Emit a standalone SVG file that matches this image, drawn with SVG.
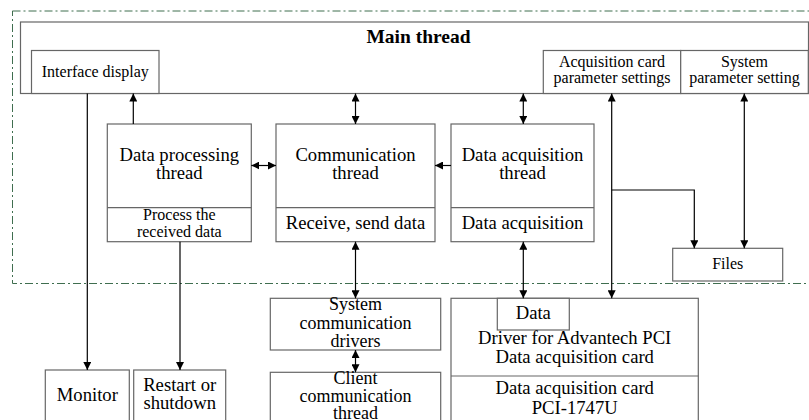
<svg xmlns="http://www.w3.org/2000/svg" width="809" height="420" viewBox="0 0 809 420">
  <defs>
    <marker id="arrow" viewBox="0 0 10 10" refX="10" refY="5" markerWidth="9" markerHeight="8" markerUnits="userSpaceOnUse" orient="auto-start-reverse">
      <path d="M0,0 L10,5 L0,10 z" fill="#000"/>
    </marker>
    <marker id="arrow-s" viewBox="0 0 10 10" refX="10" refY="5" markerWidth="8" markerHeight="8" markerUnits="userSpaceOnUse" orient="auto-start-reverse">
      <path d="M0,0 L10,5 L0,10 z" fill="#000"/>
    </marker>
  </defs>
  <style>
    .box { fill: #fff; stroke: #666; stroke-width: 1.2; }
    .div { stroke: #666; stroke-width: 1.2; fill: none; }
    .zone { fill: none; stroke: #3f6e4f; stroke-width: 1; stroke-dasharray: 8 3 2 3; }
    .link { fill: none; stroke: #000; stroke-width: 1.2; }
    .one { marker-end: url(#arrow); }
    .two { marker-start: url(#arrow); marker-end: url(#arrow); }
    .twos { marker-start: url(#arrow-s); marker-end: url(#arrow-s); }
    text { font-family: "Liberation Serif", "Times New Roman", serif; fill: #000; text-anchor: middle; }
    .t16 { font-size: 16px; }
    .t18 { font-size: 18.67px; }
    .tight { font-size: 18px; }
    .title { font-size: 19.5px; font-weight: bold; }
  </style>

  <rect width="809" height="420" fill="#fff"/>

  <!-- process boundary -->
  <rect id="process-boundary" class="zone" x="12.5" y="11" width="810" height="272.5"/>

  <!-- main thread -->
  <g id="main-thread">
    <rect class="box" x="20.5" y="22" width="788" height="71.5"/>
    <text class="title" x="418.5" y="43">Main thread</text>
  </g>

  <g id="interface-display">
    <rect class="box" x="31.5" y="50.5" width="127.5" height="43"/>
    <text class="t16" x="95.3" y="77">Interface display</text>
  </g>

  <g id="acq-card-params">
    <rect class="box" x="543.3" y="50.5" width="137.4" height="43"/>
    <text class="t16" x="612" y="67">Acquisition card</text>
    <text class="t16" x="612" y="83">parameter settings</text>
  </g>

  <g id="system-params">
    <rect class="box" x="680.7" y="50.5" width="127.6" height="43"/>
    <text class="t16" x="744.5" y="67">System</text>
    <text class="t16" x="744.5" y="83">parameter setting</text>
  </g>

  <!-- worker threads -->
  <g id="data-processing">
    <rect class="box" x="107.3" y="124" width="144" height="117.7"/>
    <line class="div" x1="107.3" y1="207.7" x2="251.3" y2="207.7"/>
    <text class="t18" x="179.3" y="160.5">Data processing</text>
    <text class="t18" x="179.3" y="179.2">thread</text>
    <text class="t16" x="179.3" y="220">Process the</text>
    <text class="t16" x="179.3" y="236.5">received data</text>
  </g>

  <g id="communication">
    <rect class="box" x="276" y="124" width="159" height="117.7"/>
    <line class="div" x1="276" y1="207.7" x2="435" y2="207.7"/>
    <text class="t18" x="355.5" y="160.5">Communication</text>
    <text class="t18" x="355.5" y="179.2">thread</text>
    <text class="t18" x="355.5" y="228.5">Receive, send data</text>
  </g>

  <g id="data-acquisition">
    <rect class="box" x="451" y="124" width="143" height="117.7"/>
    <line class="div" x1="451" y1="207.7" x2="594" y2="207.7"/>
    <text class="t18" x="522.5" y="160.5">Data acquisition</text>
    <text class="t18" x="522.5" y="179.2">thread</text>
    <text class="t18" x="522.5" y="228.5">Data acquisition</text>
  </g>

  <g id="files">
    <rect class="box" x="672.7" y="248.3" width="110" height="32.7"/>
    <text class="t16" x="727.7" y="269">Files</text>
  </g>

  <!-- outside the process -->
  <g id="monitor">
    <rect class="box" x="45.3" y="370" width="84" height="60"/>
    <text class="t18" x="87.3" y="400.5">Monitor</text>
  </g>

  <g id="restart">
    <rect class="box" x="133.7" y="370" width="92" height="60"/>
    <text class="t18" x="179.7" y="390.5">Restart or</text>
    <text class="t18" x="179.7" y="409.2">shutdown</text>
  </g>

  <g id="comm-drivers">
    <rect class="box" x="270.3" y="298.3" width="170.4" height="51.7"/>
    <text class="tight" x="355.5" y="310">System</text>
    <text class="tight" x="355.5" y="328.5">communication</text>
    <text class="tight" x="355.5" y="347">drivers</text>
  </g>

  <g id="client-comm">
    <rect class="box" x="270.3" y="372.3" width="170.4" height="60"/>
    <text class="tight" x="355.5" y="383.5">Client</text>
    <text class="tight" x="355.5" y="401.5">communication</text>
    <text class="tight" x="355.5" y="419">thread</text>
  </g>

  <g id="pci-driver">
    <rect class="box" x="451" y="298.3" width="247.3" height="140"/>
    <line class="div" x1="451" y1="376" x2="698.3" y2="376"/>
    <rect class="box" x="497.3" y="298.3" width="72" height="31.7"/>
    <text class="t18" x="533.3" y="318.5">Data</text>
    <text class="t18" x="574.7" y="344">Driver for Advantech PCI</text>
    <text class="t18" x="574.7" y="362.7">Data acquisition card</text>
    <text class="t18" x="574.7" y="394">Data acquisition card</text>
    <text class="t18" x="574.7" y="414">PCI-1747U</text>
  </g>

  <!-- connectors -->
  <g id="connectors">
    <line class="link one" x1="133.3" y1="124" x2="133.3" y2="93.5"/>
    <line class="link two" x1="355.5" y1="93.5" x2="355.5" y2="124"/>
    <line class="link two" x1="523.3" y1="93.5" x2="523.3" y2="124"/>
    <line class="link twos" x1="251.3" y1="165.5" x2="276" y2="165.5"/>
    <line class="link one" x1="451" y1="165.5" x2="435" y2="165.5"/>
    <line class="link two" x1="611.7" y1="93.5" x2="611.7" y2="298.3"/>
    <polyline class="link one" points="611.7,190 694.3,190 694.3,248.3"/>
    <line class="link two" x1="744.3" y1="93.5" x2="744.3" y2="248.3"/>
    <line class="link one" x1="87.3" y1="93.5" x2="87.3" y2="370"/>
    <line class="link one" x1="180" y1="241.7" x2="180" y2="370"/>
    <line class="link two" x1="355.5" y1="241.7" x2="355.5" y2="298.3"/>
    <line class="link two" x1="523.3" y1="241.7" x2="523.3" y2="298.3"/>
    <line class="link twos" x1="355.5" y1="350" x2="355.5" y2="372.3"/>
  </g>
</svg>
